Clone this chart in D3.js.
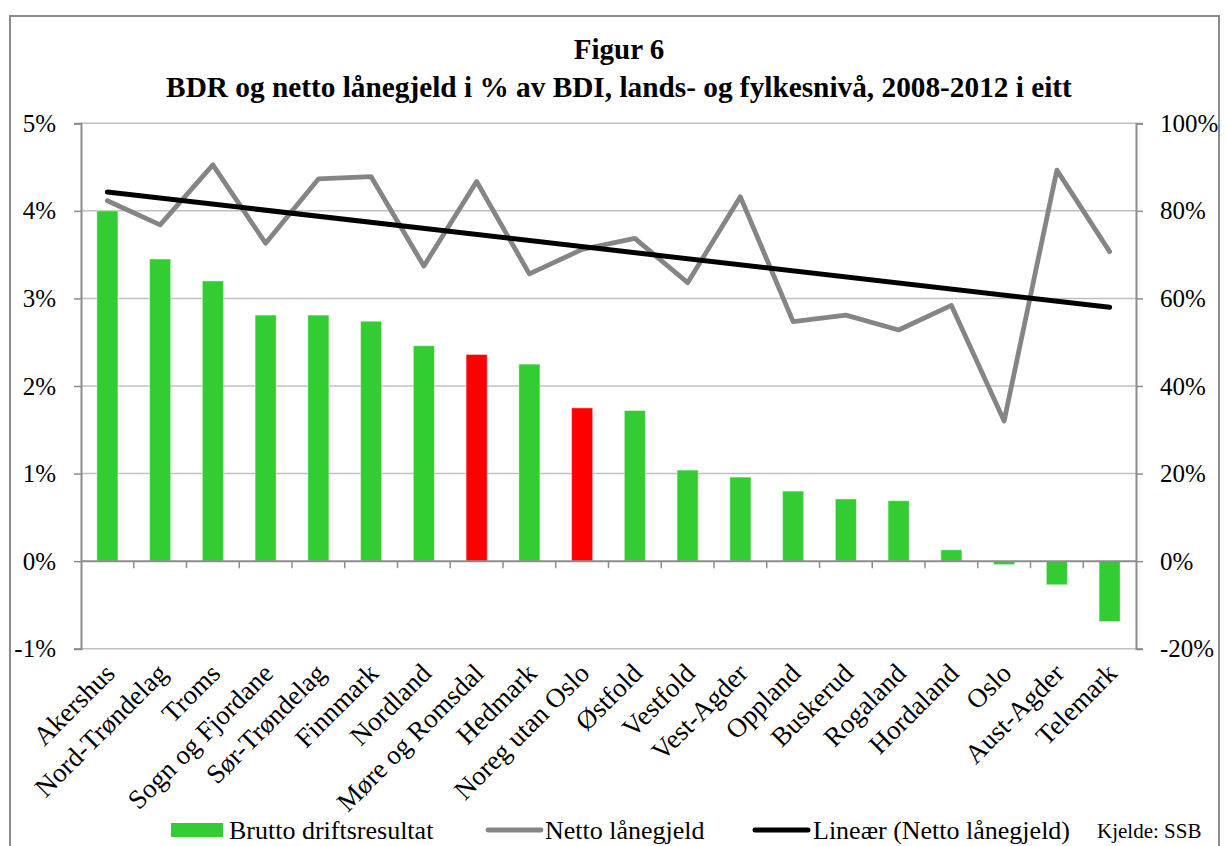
<!DOCTYPE html>
<html>
<head>
<meta charset="utf-8">
<script src="https://cdn.jsdelivr.net/npm/d3@7"></script>
<style>
  body { margin: 0; background: #fff; }
  svg text { font-family: "Liberation Serif", "Times New Roman", serif; fill: #000; }
</style>
</head>
<body>
<div id="viz"></div>
<script>
// data
var fylke = ["Akershus", "Nord-Trøndelag", "Troms", "Sogn og Fjordane", "Sør-Trøndelag",
  "Finnmark", "Nordland", "Møre og Romsdal", "Hedmark", "Noreg utan Oslo", "Østfold",
  "Vestfold", "Vest-Agder", "Oppland", "Buskerud", "Rogaland", "Hordaland", "Oslo",
  "Aust-Agder", "Telemark"];
var bdr = [4.0, 3.45, 3.2, 2.81, 2.81, 2.74, 2.46, 2.36, 2.25, 1.75, 1.72,
  1.04, 0.96, 0.80, 0.71, 0.69, 0.13, -0.04, -0.27, -0.69];
var lanegjeld = [82.3, 76.8, 90.5, 72.6, 87.3, 87.8, 67.4, 86.7, 65.6, 71.2, 73.7,
  63.6, 83.2, 54.7, 56.2, 52.8, 58.4, 32.0, 89.3, 70.7];
var raude = ["Møre og Romsdal", "Noreg utan Oslo"];
var leftTicks = [-1, 0, 1, 2, 3, 4, 5];
var rightTicks = [-20, 0, 20, 40, 60, 80, 100];

var W = 1226, H = 846;
var plotL = 81, plotR = 1136, plotT = 123.3, plotB = 648.7;

var svg = d3.select("#viz").append("svg")
    .attr("width", W)
    .attr("height", H);

// outer frame
svg.append("rect")
    .attr("x", 10).attr("y", 16)
    .attr("width", 1209).attr("height", 900)
    .attr("fill", "none")
    .attr("stroke", "#8c8c8c")
    .attr("stroke-width", 2);

svg.append("text")
    .attr("x", 619).attr("y", 59)
    .attr("text-anchor", "middle")
    .style("font-size", "29px").style("font-weight", "bold")
    .text("Figur 6");
svg.append("text")
    .attr("x", 619).attr("y", 97)
    .attr("text-anchor", "middle")
    .style("font-size", "29.3px").style("font-weight", "bold")
    .text("BDR og netto lånegjeld i % av BDI, lands- og fylkesnivå, 2008-2012 i eitt");

var x = d3.scaleBand().domain(fylke).range([plotL, plotR]).paddingInner(0.6).paddingOuter(0.3);
var yL = d3.scaleLinear().domain([-1, 5]).range([plotB, plotT]);
var yR = d3.scaleLinear().domain([-20, 100]).range([plotB, plotT]);
var step = x.step();

// gridlines
svg.append("g").selectAll("line")
    .data(leftTicks.filter(function(d) { return d != 0; }))
  .enter().append("line")
    .attr("x1", plotL).attr("x2", plotR)
    .attr("y1", function(d) { return yL(d); })
    .attr("y2", function(d) { return yL(d); })
    .attr("stroke", "#c0c0c0")
    .attr("stroke-width", 1.5);

// axes
var axL = svg.append("g")
    .attr("transform", "translate(" + plotL + ",0)")
    .call(d3.axisLeft(yL).tickValues(leftTicks).tickSize(7).tickPadding(18)
      .tickFormat(function(d) { return d + "%"; }));
var axR = svg.append("g")
    .attr("transform", "translate(" + plotR + ",0)")
    .call(d3.axisRight(yR).tickValues(rightTicks).tickSize(7).tickPadding(17)
      .tickFormat(function(d) { return d + "%"; }));
[axL, axR].forEach(function(a) {
  a.select(".domain").attr("stroke", "#8c8c8c").attr("stroke-width", 2);
  a.selectAll(".tick line").attr("stroke", "#8c8c8c").attr("stroke-width", 1.5);
  a.selectAll(".tick text")
      .style("font-family", "'Liberation Serif', 'Times New Roman', serif")
      .style("font-size", "25px").attr("fill", "#000");
});

// bars
svg.append("g").selectAll("rect")
    .data(fylke)
  .enter().append("rect")
    .attr("x", function(d) { return x(d); })
    .attr("width", x.bandwidth())
    .attr("y", function(d, i) { return yL(Math.max(0, bdr[i])); })
    .attr("height", function(d, i) { return Math.abs(yL(bdr[i]) - yL(0)); })
    .attr("fill", function(d) { return raude.includes(d) ? "#ff0000" : "#33cc33"; })
    .attr("stroke", "rgba(255,255,255,0.45)")
    .attr("stroke-width", 1);

// zero line with category ticks
svg.append("line")
    .attr("x1", plotL).attr("x2", plotR)
    .attr("y1", yL(0)).attr("y2", yL(0))
    .attr("stroke", "#8c8c8c").attr("stroke-width", 2);
svg.append("g").selectAll("line")
    .data(d3.range(1, fylke.length))
  .enter().append("line")
    .attr("x1", function(i) { return plotL + i * step; })
    .attr("x2", function(i) { return plotL + i * step; })
    .attr("y1", yL(0)).attr("y2", yL(0) + 7)
    .attr("stroke", "#8c8c8c").attr("stroke-width", 1.5);

// category labels
svg.append("g").selectAll("text")
    .data(fylke)
  .enter().append("text")
    .attr("text-anchor", "end")
    .attr("transform", function(d) {
      return "translate(" + (x(d) + x.bandwidth() / 2 + 9) + ",675) rotate(-45)";
    })
    .style("font-size", "27px")
    .text(function(d) { return d; });

// netto lånegjeld line
var cx = function(d, i) { return x(fylke[i]) + x.bandwidth() / 2; };
var line = d3.line()
    .x(cx)
    .y(function(d) { return yR(d); });
svg.append("path")
    .datum(lanegjeld)
    .attr("d", line)
    .attr("fill", "none")
    .attr("stroke", "#858585")
    .attr("stroke-width", 4.8)
    .attr("stroke-linejoin", "round")
    .attr("stroke-linecap", "round");

// linear trend (least squares over category index)
var n = lanegjeld.length;
var mx = d3.mean(d3.range(n)), my = d3.mean(lanegjeld);
var sxy = d3.sum(lanegjeld, function(v, i) { return (i - mx) * (v - my); });
var sxx = d3.sum(d3.range(n), function(i) { return (i - mx) * (i - mx); });
var slope = sxy / sxx, icpt = my - slope * mx;
var trend = [icpt, icpt + slope * (n - 1)];
svg.append("line")
    .attr("x1", x(fylke[0]) + x.bandwidth() / 2)
    .attr("x2", x(fylke[n - 1]) + x.bandwidth() / 2)
    .attr("y1", yR(trend[0]))
    .attr("y2", yR(trend[1]))
    .attr("stroke", "#000")
    .attr("stroke-width", 5)
    .attr("stroke-linecap", "round");

// legend
var ly = 830;
svg.append("rect")
    .attr("x", 171).attr("y", ly - 7).attr("width", 52).attr("height", 14)
    .attr("fill", "#33cc33");
svg.append("text").attr("x", 229).attr("y", ly + 9)
    .style("font-size", "26px").text("Brutto driftsresultat");
svg.append("line")
    .attr("x1", 488).attr("x2", 541).attr("y1", ly).attr("y2", ly)
    .attr("stroke", "#858585").attr("stroke-width", 4.8).attr("stroke-linecap", "round");
svg.append("text").attr("x", 545).attr("y", ly + 9)
    .style("font-size", "26px").text("Netto lånegjeld");
svg.append("line")
    .attr("x1", 755).attr("x2", 808).attr("y1", ly).attr("y2", ly)
    .attr("stroke", "#000").attr("stroke-width", 5).attr("stroke-linecap", "round");
svg.append("text").attr("x", 813).attr("y", ly + 9)
    .style("font-size", "26px").text("Lineær (Netto lånegjeld)");
svg.append("text").attr("x", 1097).attr("y", ly + 8)
    .style("font-size", "21px").text("Kjelde: SSB");
</script>
</body>
</html>
